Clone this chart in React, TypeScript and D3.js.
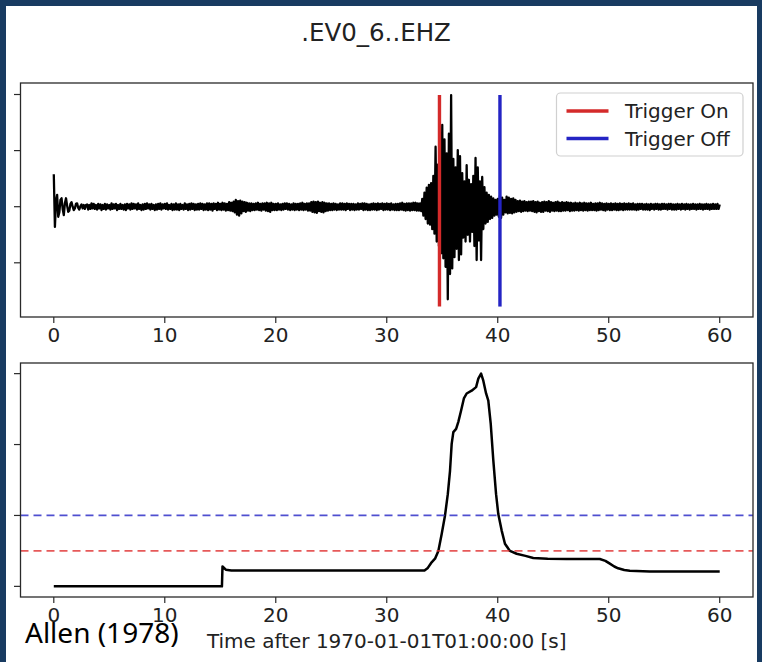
import React from "react";
import * as d3 from "d3";

const W = 762;
const H = 662;

const title = ".EV0_6..EHZ";
const xLabel = "Time after 1970-01-01T01:00:00 [s]";
const caption = "Allen (1978)";
const legendLabels = ["Trigger On", "Trigger Off"];

const xTicks = [0, 10, 20, 30, 40, 50, 60];
const traceYTicks = [-100, 0, 100, 200];
const cftYTicks = [0, 10, 20, 30];

const triggerOnTimes = [34.75];
const triggerOffTimes = [40.2];
const triggerLineSpan = [-178, 199];
const thrOn = 5;
const thrOff = 10;

// seismogram (counts), segment 1: onset ringing, 0.0 - 2.9 s every 0.1 s
const ringStart = 0;
const ringStep = 0.1;
const ringValues = [
  58, -36, 10, 21, -18, -10, 12, 15, -4, -15,
  6, 15, 2, -9, -7, 5, 8, 0, -6, -3,
  5, 6, -2, -5, 1, 4, -3, 3, -4, 3,
];

// segment 2: background noise, 3.0 - 32.9 s every 0.1 s
const quietAStart = 3.0;
const quietAStep = 0.1;
const quietAValues = [
  4, -5, 3, -4, 6, -3, 5, -4, 3, -5,
  5, -3, 4, -6, 3, -4, 5, -5, 4, -3,
  3, -5, 6, -4, 4, -3, 5, -6, 3, -4,
  5, -4, 3, -5, 4, -6, 5, -3, 4, -5,
  6, -4, 5, -3, 4, -5, 6, -4, 3, -6,
  4, -5, 5, -4, 6, -3, 4, -5, 5, -4,
  3, -6, 4, -5, 5, -4, 6, -5, 4, -3,
  5, -4, 6, -5, 3, -4, 5, -6, 4, -5,
  6, -5, 4, -6, 5, -4, 3, -5, 6, -4,
  4, -6, 5, -5, 6, -4, 5, -6, 4, -5,
  5, -5, 6, -4, 5, -6, 4, -5, 6, -6,
  6, -5, 5, -7, 6, -4, 5, -6, 7, -5,
  5, -6, 7, -5, 6, -7, 5, -6, 8, -7,
  7, -8, 9, -10, 12, -14, 10, -16, 11, -12,
  9, -8, 8, -9, 7, -7, 6, -8, 6, -6,
  5, -6, 6, -5, 7, -6, 5, -7, 6, -5,
  6, -7, 7, -8, 6, -9, 7, -6, 5, -6,
  5, -6, 6, -5, 4, -6, 5, -5, 6, -4,
  6, -5, 5, -6, 4, -5, 6, -6, 5, -5,
  5, -6, 6, -5, 7, -6, 5, -5, 6, -7,
  6, -7, 8, -9, 9, -10, 8, -11, 9, -8,
  7, -9, 8, -10, 7, -8, 6, -7, 6, -6,
  5, -6, 6, -5, 5, -6, 4, -5, 6, -5,
  6, -5, 5, -6, 6, -4, 5, -6, 5, -5,
  5, -6, 4, -5, 6, -5, 5, -4, 6, -6,
  6, -5, 5, -6, 4, -6, 5, -5, 6, -5,
  5, -6, 6, -5, 5, -4, 6, -6, 5, -5,
  6, -5, 5, -6, 6, -5, 4, -6, 5, -6,
  5, -6, 6, -5, 7, -6, 5, -7, 6, -6,
  6, -7, 6, -6, 7, -6, 7, -7, 6, -7,
];

// segment 3: event, 33.0 - 42.9 s every 0.1 s
const eventStart = 33.0;
const eventStep = 0.1;
const eventValues = [
  6, -8, 14, -16, 25, -22, 34, -30, 39, -32,
  42, -40, 55, -48, 107, -62, 75, -70, 118, -83,
  146, -92, 120, -107, 95, -165, 130, -120, 199, -110,
  85, -90, 70, -75, 101, -95, 90, -85, 60, -55,
  45, -62, 74, -50, 48, -62, 40, -45, 55, -70,
  87, -95, 70, -60, 45, -95, 53, -40, 35, -30,
  25, -27, 21, -22, 18, -20, 15, -16, 12, -14,
  14, -18, 20, -20, 16, -14, 12, -10, 18, -12,
  16, -11, 14, -12, 15, -10, 12, -9, 10, -8,
  11, -9, 9, -8, 10, -7, 8, -8, 9, -7,
];

// segment 4: coda noise, 43.0 - 60.0 s every 0.1 s
const quietBStart = 43.0;
const quietBStep = 0.1;
const quietBValues = [
  9, -8, 10, -9, 8, -10, 9, -8, 7, -9,
  8, -9, 9, -7, 8, -8, 10, -9, 8, -7,
  7, -8, 8, -7, 9, -8, 7, -8, 8, -7,
  7, -7, 8, -6, 7, -8, 7, -7, 6, -7,
  7, -6, 6, -7, 7, -6, 6, -7, 7, -6,
  6, -7, 6, -6, 7, -6, 5, -6, 6, -7,
  6, -6, 7, -5, 6, -6, 5, -7, 6, -5,
  5, -6, 6, -6, 5, -5, 6, -6, 5, -6,
  6, -5, 5, -6, 6, -5, 5, -5, 6, -5,
  5, -5, 6, -5, 4, -6, 5, -5, 5, -4,
  5, -5, 4, -5, 5, -5, 4, -6, 5, -4,
  4, -5, 5, -4, 5, -5, 4, -5, 5, -4,
  5, -4, 4, -5, 5, -4, 5, -5, 4, -5,
  4, -5, 5, -4, 4, -5, 5, -4, 4, -5,
  5, -4, 4, -5, 4, -4, 5, -4, 4, -5,
  4, -4, 5, -4, 4, -5, 4, -4, 5, -4,
  4, -5, 4, -4, 5, -4, 4, -4, 5, -4,
  4,
];

// characteristic function (delayed STA/LTA)
const cftTimes = [
  0, 15.15, 15.2, 15.5, 16.0, 33.4, 33.7, 34.0, 34.35, 34.65,
  34.95, 35.25, 35.5, 35.7, 35.85, 36.0, 36.25, 36.45, 36.7, 36.95,
  37.2, 37.65, 38.05, 38.25, 38.5, 38.7, 38.95, 39.15, 39.37, 39.6,
  39.85, 40.05, 40.35, 40.65, 41.1, 41.7, 42.5, 43.2, 44.5, 46.2,
  49.2, 49.7, 50.1, 50.5, 50.85, 51.4, 51.9, 53.7, 60,
];
const cftValues = [
  0, 0, 2.8, 2.35, 2.25, 2.25, 2.6, 3.3, 3.9, 5.0,
  7.4, 10.0, 13.0, 16.3, 20.1, 21.75, 22.2, 23.2, 24.8, 26.5,
  27.2, 27.6, 28.1, 29.3, 30.0, 29.0, 27.2, 26.2, 22.9, 17.8,
  13.0, 10.2, 7.9, 6.0, 5.0, 4.6, 4.3, 4.0, 3.9, 3.85,
  3.85, 3.6, 3.2, 2.8, 2.55, 2.3, 2.2, 2.1, 2.1,
];

function segment(start: number, step: number, values: number[]): [number, number][] {
  return values.map((v, i) => [start + i * step, v]);
}

const tracePoints: [number, number][] = [
  ...segment(ringStart, ringStep, ringValues),
  ...segment(quietAStart, quietAStep, quietAValues),
  ...segment(eventStart, eventStep, eventValues),
  ...segment(quietBStart, quietBStep, quietBValues),
];
const cftPoints: [number, number][] = cftTimes.map((t, i) => [t, cftValues[i]]);

const FONT = "DejaVu Sans, sans-serif";
const RED = "#d42a2a";
const BLUE = "#2424c4";
const SPINE = "#2a2a2a";

export default function App() {
  const left = 20.5;
  const right = 753;
  const top1 = 83;
  const bot1 = 317;
  const top2 = 363;
  const bot2 = 597;

  const x = d3.scaleLinear().domain([-3, 63]).range([left, right]);
  const y1 = d3.scaleLinear().domain([-196.6, 220.5]).range([bot1, top1]);
  const y2 = d3.scaleLinear().domain([-1.5, 31.5]).range([bot2, top2]);

  const traceLine = d3
    .line<[number, number]>()
    .x((d) => x(d[0]))
    .y((d) => y1(d[1]));
  const cftLine = d3
    .line<[number, number]>()
    .x((d) => x(d[0]))
    .y((d) => y2(d[1]));

  const xAxis = (bottom: number, labelY: number) => (
    <g>
      {xTicks.map((t) => (
        <g key={t}>
          <line x1={x(t)} x2={x(t)} y1={bottom} y2={bottom + 6} stroke={SPINE} strokeWidth={1.2} />
          <text x={x(t)} y={labelY} textAnchor="middle" fontFamily={FONT} fontSize={20} fill="#222">
            {t}
          </text>
        </g>
      ))}
    </g>
  );

  const yTicks = (ticks: number[], scale: (v: number) => number) =>
    ticks.map((t) => (
      <line key={t} x1={left - 6.5} x2={left} y1={scale(t)} y2={scale(t)} stroke={SPINE} strokeWidth={1.2} />
    ));

  return (
    <svg
      width={W}
      height={H}
      viewBox={`0 0 ${W} ${H}`}
      style={{ position: "absolute", left: 0, top: 0, display: "block" }}
    >
      <rect x={0} y={0} width={W} height={H} fill="#183b61" />
      <rect x={6} y={6} width={751} height={H - 6} fill="#ffffff" />

      <text x={376} y={41} textAnchor="middle" fontFamily={FONT} fontSize={24.5} fill="#222">
        {title}
      </text>

      <defs>
        <clipPath id="clip1">
          <rect x={left} y={top1} width={right - left} height={bot1 - top1} />
        </clipPath>
        <clipPath id="clip2">
          <rect x={left} y={top2} width={right - left} height={bot2 - top2} />
        </clipPath>
      </defs>

      {/* upper panel */}
      <g clipPath="url(#clip1)">
        <path d={traceLine(tracePoints) || ""} fill="none" stroke="#000" strokeWidth={2.3} strokeLinejoin="round" />
        {triggerOnTimes.map((t) => (
          <line key={"on" + t} x1={x(t)} x2={x(t)} y1={y1(triggerLineSpan[0])} y2={y1(triggerLineSpan[1])} stroke={RED} strokeWidth={3.4} />
        ))}
        {triggerOffTimes.map((t) => (
          <line key={"off" + t} x1={x(t)} x2={x(t)} y1={y1(triggerLineSpan[0])} y2={y1(triggerLineSpan[1])} stroke={BLUE} strokeWidth={3.4} />
        ))}
      </g>
      <rect x={left} y={top1} width={right - left} height={bot1 - top1} fill="none" stroke={SPINE} strokeWidth={1.3} />
      {yTicks(traceYTicks, y1)}
      {xAxis(bot1, bot1 + 25)}

      {/* legend */}
      <g>
        <rect x={556.5} y={93} width={186.5} height={63} rx={4} fill="#fff" fillOpacity={0.85} stroke="#d0d0d0" strokeWidth={1.2} />
        {legendLabels.map((lab, i) => (
          <g key={lab}>
            <line x1={566.5} x2={608.5} y1={111 + i * 27.5} y2={111 + i * 27.5} stroke={i === 0 ? RED : BLUE} strokeWidth={3.4} />
            <text x={625} y={118 + i * 27.5} fontFamily={FONT} fontSize={20} fill="#222">
              {lab}
            </text>
          </g>
        ))}
      </g>

      {/* lower panel */}
      <g clipPath="url(#clip2)">
        <path d={cftLine(cftPoints) || ""} fill="none" stroke="#000" strokeWidth={2.5} strokeLinejoin="round" />
        <line x1={left} x2={right} y1={y2(thrOn)} y2={y2(thrOn)} stroke="#e03030" strokeOpacity={0.8} strokeWidth={1.7} strokeDasharray="8,5" />
        <line x1={left} x2={right} y1={y2(thrOff)} y2={y2(thrOff)} stroke="#3030c8" strokeOpacity={0.85} strokeWidth={1.7} strokeDasharray="8,5" />
      </g>
      <rect x={left} y={top2} width={right - left} height={bot2 - top2} fill="none" stroke={SPINE} strokeWidth={1.3} />
      {yTicks(cftYTicks, y2)}
      {xAxis(bot2, bot2 + 25)}

      <text x={(left + right) / 2} y={648} textAnchor="middle" fontFamily={FONT} fontSize={20} fill="#222">
        {xLabel}
      </text>

      <text x={25} y={643} fontFamily="Noto Sans, sans-serif" fontSize={28} fill="#000">
        {caption}
      </text>
    </svg>
  );
}
